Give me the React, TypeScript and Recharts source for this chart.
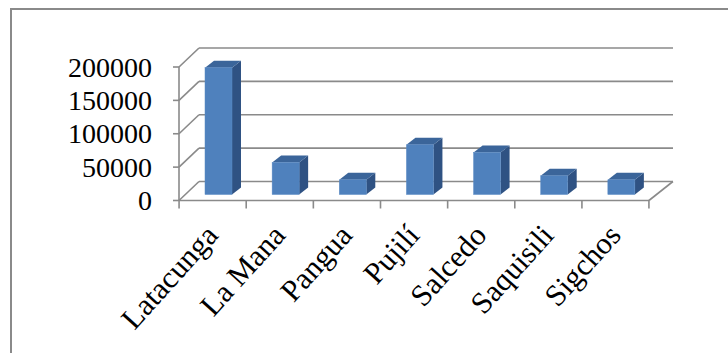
import React from "react";
import { BarChart, Bar, XAxis, YAxis, CartesianGrid } from "recharts";

const categories = ["Latacunga", "La Mana", "Pangua", "Pujilí", "Salcedo", "Saquisili", "Sigchos"];
const population = [190000, 48000, 22000, 74500, 63000, 28000, 22000];
const yTicks = [0, 50000, 100000, 150000, 200000];

const data = categories.map((name, i) => ({ name, value: population[i] }));

const GRID = "#8a8a8a";
const FONT = "'Liberation Serif', 'Times New Roman', serif";
// 3D wall depth and bar offsets
const WALL_DX = 20;
const WALL_DY = -19;
const BAR_DX = 6;
const BAR_DY = -6;
const DEPTH_DX = 9;
const DEPTH_DY = -7;

const Bar3D = (props: any) => {
  const { x, y, width, height } = props;
  if (height == null || height <= 0) return null;
  const fx = x + BAR_DX;
  const fy = y + BAR_DY;
  const w = width;
  const h = height;
  const top = `${fx},${fy} ${fx + DEPTH_DX},${fy + DEPTH_DY} ${fx + w + DEPTH_DX},${fy + DEPTH_DY} ${fx + w},${fy}`;
  const side = `${fx + w},${fy} ${fx + w + DEPTH_DX},${fy + DEPTH_DY} ${fx + w + DEPTH_DX},${fy + h + DEPTH_DY} ${fx + w},${fy + h}`;
  return (
    <g>
      <polygon points={side} fill="#2f5283" />
      <polygon points={top} fill="#3b659a" />
      <rect x={fx} y={fy} width={w} height={h} fill="#4f81bd" stroke="#5a8ac4" strokeWidth={0.5} />
    </g>
  );
};

const WallLine = (props: any) => {
  const { x1, x2, y1 } = props;
  return (
    <g>
      <line x1={x1} y1={y1} x2={x1 + WALL_DX} y2={y1 + WALL_DY} stroke={GRID} strokeWidth={1.6} />
      <line x1={x1 + WALL_DX} y1={y1 + WALL_DY} x2={x2 + WALL_DX + 4} y2={y1 + WALL_DY} stroke={GRID} strokeWidth={1.6} />
    </g>
  );
};

const YTick = (props: any) => {
  const { x, y, payload } = props;
  return (
    <text
      x={x}
      y={y}
      textAnchor="end"
      dominantBaseline="central"
      fontFamily={FONT}
      fontSize={28}
      fill="#000"
    >
      {payload.value}
    </text>
  );
};

const XTick = (props: any) => {
  const { x, y, payload, index } = props;
  const band = 67;
  const last = index === categories.length - 1;
  return (
    <g>
      <line x1={x - band / 2} y1={y} x2={x - band / 2} y2={y + 8} stroke={GRID} strokeWidth={1.6} />
      {last && (
        <g>
          <line x1={x + band / 2} y1={y} x2={x + band / 2} y2={y + 8} stroke={GRID} strokeWidth={1.6} />
          <line x1={x + band / 2} y1={y} x2={x + band / 2 + WALL_DX + 4} y2={y + WALL_DY} stroke={GRID} strokeWidth={1.6} />
        </g>
      )}
      <text
        transform={`translate(${x + 7},${y + 36}) rotate(-48)`}
        textAnchor="end"
        fontFamily={FONT}
        fontSize={30.5}
        fill="#000"
      >
        {payload.value}
      </text>
    </g>
  );
};

export default function App() {
  return (
    <div style={{ position: "absolute", left: 0, top: 0, width: 728, height: 353, overflow: "hidden", background: "#fff" }}>
      <div
        style={{
          position: "absolute",
          left: 10,
          top: 8,
          width: 760,
          height: 400,
          border: "2px solid #8a8a8a",
        }}
      />
      <div style={{ position: "absolute", left: 0, top: 0 }}>
        <BarChart
          width={728}
          height={353}
          data={data}
          margin={{ top: 67, right: 79, bottom: 32.5, left: 79 }}
        >
          <CartesianGrid vertical={false} horizontal={WallLine} stroke={GRID} />
          <XAxis
            dataKey="name"
            interval={0}
            height={120}
            tickSize={0}
            tickMargin={0}
            axisLine={{ stroke: GRID, strokeWidth: 1.6 }}
            tickLine={false}
            tick={XTick}
          />
          <YAxis
            width={100}
            domain={[0, 200000]}
            ticks={yTicks}
            interval={0}
            tickSize={6}
            tickMargin={21}
            axisLine={{ stroke: GRID, strokeWidth: 1.6 }}
            tickLine={{ stroke: GRID, strokeWidth: 1.6 }}
            tick={YTick}
          />
          <Bar dataKey="value" barSize={27} shape={Bar3D} isAnimationActive={false} />
        </BarChart>
      </div>
    </div>
  );
}
